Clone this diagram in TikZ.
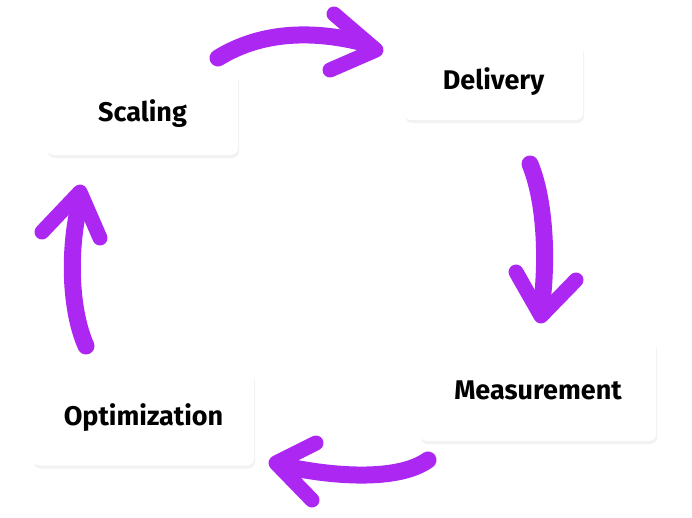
\documentclass[tikz,border=0pt]{standalone}
\usepackage{fontspec}
\setmainfont{Fira Sans}
\usetikzlibrary{shadows}
\definecolor{pur}{HTML}{AD27F2}
\begin{document}
\begin{tikzpicture}[x=1pt,y=-1pt,
  box/.style={draw=none,fill=white,rounded corners=7pt,
    drop shadow={opacity=0.12,shadow xshift=1pt,shadow yshift=-3pt,fill=black!40},
    font=\bfseries\fontsize{27}{30}\selectfont},
  shaft/.style={pur,line width=17pt,line cap=round},
  head/.style={pur,line width=15pt,line cap=round,line join=round}]
\fill[white] (0,0) rectangle (692,518);
\useasboundingbox (0,0) rectangle (692,518);
\node[box,minimum width=191pt,minimum height=83pt] (s) at (142.5,113.5) {Scaling};
\node[box,minimum width=179pt,minimum height=76pt] (d) at (493.5,82) {Delivery};
\node[box,minimum width=236pt,minimum height=102pt] (m) at (538,390) {Measurement};
\node[box,minimum width=221pt,minimum height=95pt] (o) at (143.5,418) {Optimization};
% top
\draw[shaft] (218,58) .. controls (260,32) and (310,30) .. (360,42);
\draw[head] (334,14) -- (376,50) -- (330,70);
% right
\draw[shaft] (530,164) .. controls (545,200) and (548,260) .. (541,310);
\draw[head] (516,272) -- (541,316) -- (576,280);
% bottom
\draw[shaft] (428,460) .. controls (400,480) and (340,478) .. (284,466);
\draw[head] (316,443) -- (276,463) -- (312,500);
% left
\draw[shaft] (86,346) .. controls (70,310) and (68,250) .. (80,202);
\draw[head] (42,232) -- (80,192) -- (100,238);
\end{tikzpicture}
\end{document}
